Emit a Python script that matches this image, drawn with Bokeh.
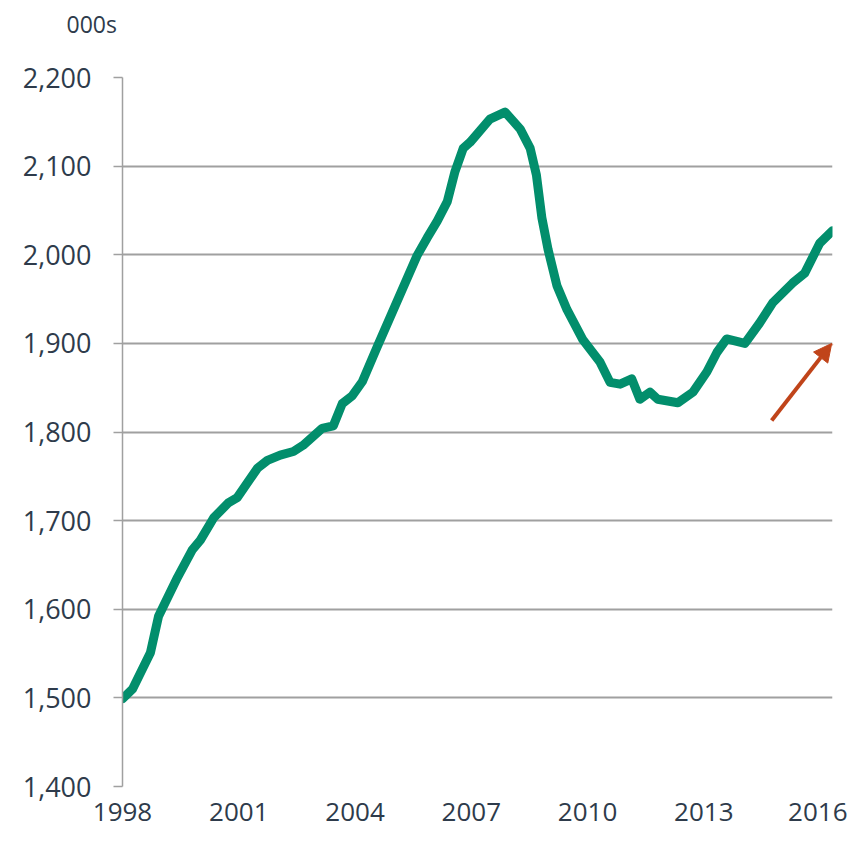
from bokeh.plotting import figure
from bokeh.models import Range1d, FixedTicker, NumeralTickFormatter, Title, Arrow, NormalHead
from bokeh.embed import file_html
from bokeh.resources import INLINE

# Data (thousands)
years = [1998.00, 1998.26, 1998.72, 1998.93, 1999.42, 1999.80, 2000.01, 2000.35,
         2000.73, 2000.96, 2001.48, 2001.74, 2002.07, 2002.41, 2002.66, 2003.15,
         2003.44, 2003.67, 2003.93, 2004.19, 2004.57, 2005.60, 2005.86, 2006.12,
         2006.38, 2006.58, 2006.79, 2006.97, 2007.48, 2007.87, 2008.26, 2008.52,
         2008.68, 2008.82, 2008.98, 2009.21, 2009.47, 2009.88, 2010.32, 2010.58,
         2010.84, 2011.14, 2011.35, 2011.61, 2011.81, 2012.33, 2012.72, 2013.08,
         2013.34, 2013.59, 2014.06, 2014.44, 2014.78, 2015.29, 2015.60, 2015.99,
         2016.32]
values = [1499, 1510, 1551, 1592, 1636, 1667, 1678, 1703,
          1720, 1726, 1759, 1768, 1774, 1778, 1785, 1804,
          1807, 1832, 1841, 1857, 1896, 1999, 2019, 2038,
          2060, 2094, 2120, 2127, 2153, 2161, 2142, 2120,
          2090, 2042, 2006, 1965, 1938, 1904, 1879, 1856,
          1854, 1860, 1837, 1845, 1837, 1833, 1845, 1868,
          1890, 1905, 1900, 1923, 1946, 1968, 1979, 2013,
          2027]

x_ticks = [1998, 2001, 2004, 2007, 2010, 2013, 2016]
y_ticks = [1400, 1500, 1600, 1700, 1800, 1900, 2000, 2100, 2200]
unit_label = "000s"

# annotation arrow (start -> end, data units)
arrow_start = (2014.75, 1813)
arrow_end = (2016.30, 1900)

FONT = "Open Sans"
TXT = "#2E3B4B"
GRID = "#A0A0A0"

p = figure(width=847, height=832, output_backend="svg", toolbar_location=None,
           x_range=Range1d(1998, 2016.32), y_range=Range1d(1400, 2200),
           min_border_left=122, min_border_right=15, min_border_top=72,
           min_border_bottom=46)
p.outline_line_color = None
p.background_fill_color = "white"
p.border_fill_color = "white"

p.line(years, values, line_color="#028E6C", line_width=9, line_join="round", line_cap="round")

# y axis
ya = p.yaxis[0]
ya.ticker = FixedTicker(ticks=y_ticks)
ya.formatter = NumeralTickFormatter(format="0,0")
ya.axis_line_color = GRID
ya.axis_line_width = 1.5
ya.major_tick_line_color = GRID
ya.major_tick_line_width = 1.5
ya.major_tick_out = 9
ya.major_tick_in = 0
ya.minor_tick_line_color = None
ya.major_label_text_font = FONT
ya.major_label_text_font_size = "27px"
ya.major_label_text_color = TXT
ya.major_label_standoff = 22

# x axis
xa = p.xaxis[0]
xa.ticker = FixedTicker(ticks=x_ticks)
xa.axis_line_color = None
xa.major_tick_line_color = None
xa.minor_tick_line_color = None
xa.major_label_text_font = FONT
xa.major_label_text_font_size = "26px"
xa.major_label_text_color = TXT
xa.major_label_standoff = 10

p.xgrid.grid_line_color = None
p.ygrid.ticker = FixedTicker(ticks=y_ticks)
p.ygrid.grid_line_color = GRID
p.ygrid.grid_line_width = 2

# spacer (nearest the frame), then the unit label above it
p.add_layout(Title(text=" ", text_font_size="22px", standoff=6), "above")
p.add_layout(Title(text=unit_label, align="left", offset=-56,
                   text_font=FONT, text_font_size="23px", text_font_style="normal",
                   text_color=TXT), "above")

p.add_layout(Arrow(x_start=arrow_start[0], y_start=arrow_start[1],
                   x_end=arrow_end[0], y_end=arrow_end[1],
                   line_color="#C0441A", line_width=4,
                   end=NormalHead(size=18, fill_color="#C0441A", line_color="#C0441A")))

open("out.html", "w").write(file_html(p, INLINE))
